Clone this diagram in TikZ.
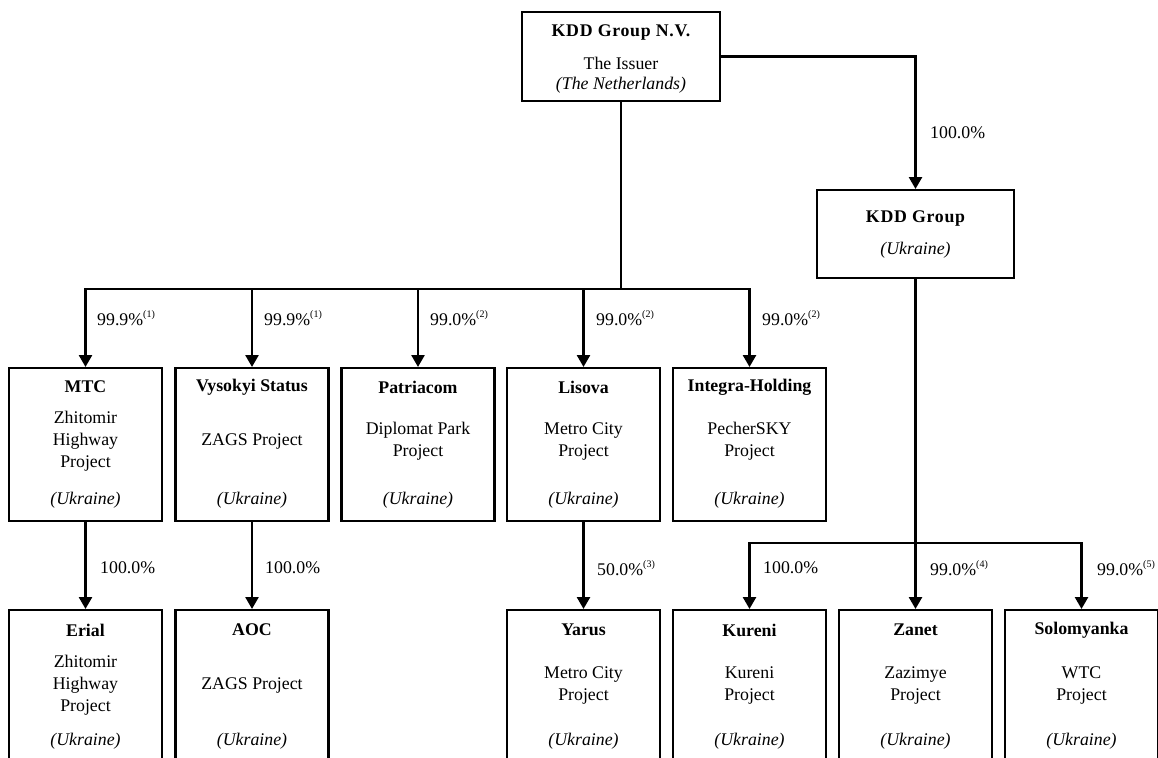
\documentclass[tikz,border=0pt]{standalone}
\usepackage{fontspec}
\setmainfont{Liberation Serif}
\usetikzlibrary{arrows.meta,calc}
\newcommand{\fnref}[1]{\raisebox{0.42em}{\fontsize{10}{10}\selectfont(#1)}}
\begin{document}
\begin{tikzpicture}[x=1pt,y=-1pt,
  box/.style={draw,line width=2.4pt,minimum width=153pt,minimum height=153pt,inner sep=0pt,anchor=north},
  conn/.style={line width=2.6pt},
  arr/.style={line width=2.6pt,-{Triangle[width=13pt,length=12pt]}},
  txt/.style={font=\fontsize{17.8}{22}\selectfont,align=center,inner sep=0pt},
  ttl/.style={font=\fontsize{17.8}{22}\selectfont\bfseries,align=center,inner sep=0pt},
  ctry/.style={font=\fontsize{17.8}{22}\selectfont\itshape,align=center,inner sep=0pt},
  pct/.style={font=\fontsize{17.8}{22}\selectfont,anchor=west,inner sep=0pt}]
\useasboundingbox (0,0) rectangle (1158,757);
\clip (0,0) rectangle (1158,757);

% top box
\node[draw,line width=2.4pt,minimum width=198pt,minimum height=89pt,inner sep=0pt,anchor=north] (top) at (621,11) {};
\node[ttl,font=\fontsize{17.8}{22}\selectfont\bfseries\addfontfeature{LetterSpace=4}] (topT) at (621,33) {KDD Group N.V.};
\node[txt] (topM) at (621,63) {The Issuer};
\node[ctry] (topC) at (621,85) {(The Netherlands)};

% KDD Group (Ukraine)
\node[draw,line width=2.4pt,minimum width=197pt,minimum height=88pt,inner sep=0pt,anchor=north] (kdd) at (915.5,189) {};
\node[ttl,font=\fontsize{17.8}{22}\selectfont\bfseries\addfontfeature{LetterSpace=4}] (kddT) at (915.5,219) {KDD Group};
\node[ctry] (kddC) at (915.5,250) {(Ukraine)};

% level 2 boxes
\foreach \nm/\cx/\tt/\mid in {mtc/85.5/MTC/{Zhitomir\\Highway\\Project},
                              vys/252/Vysokyi Status/{ZAGS Project},
                              pat/418/Patriacom/{Diplomat Park\\Project},
                              lis/583.5/Lisova/{Metro City\\Project},
                              int/749.5/Integra-Holding/{PecherSKY\\Project}}{
  \node[box] (\nm) at (\cx,367) {};
  \node[ttl] (\nm T) at (\cx,387) {\tt};
  \node[txt] (\nm M) at (\cx,441) {\mid};
  \node[ctry] (\nm C) at (\cx,500) {(Ukraine)};
}

% level 3 boxes
\foreach \nm/\cx/\tt/\mid in {eri/85.5/Erial/{Zhitomir\\Highway\\Project},
                              aoc/252/AOC/{ZAGS Project},
                              yar/583.5/Yarus/{Metro City\\Project},
                              kur/749.5/Kureni/{Kureni\\Project},
                              zan/915.5/Zanet/{Zazimye\\Project},
                              sol/1081.5/Solomyanka/{WTC\\Project}}{
  \node[box] (\nm) at (\cx,609) {};
  \node[ttl] (\nm T) at (\cx,630) {\tt};
  \node[txt] (\nm M) at (\cx,685) {\mid};
  \node[ctry] (\nm C) at (\cx,741) {(Ukraine)};
}

% connectors from the issuer
\coordinate (b1) at (621,289);
\draw[conn] (top.south) -- (b1);
\foreach \t in {mtc,vys,pat,lis,int}{
  \draw[arr] (b1) -| (\t.north);
}
\draw[arr] (top.east) -| (kdd.north);
\node[pct] (p0) at (930,133) {100.0\%};

\node[pct] (p1) at (97,318) {99.9\%\fnref{1}};
\node[pct] (p2) at (264,318) {99.9\%\fnref{1}};
\node[pct] (p3) at (430,318) {99.0\%\fnref{2}};
\node[pct] (p4) at (596,318) {99.0\%\fnref{2}};
\node[pct] (p5) at (762,318) {99.0\%\fnref{2}};

% level 2 to level 3
\draw[arr] (mtc.south) -- (eri.north);
\draw[arr] (vys.south) -- (aoc.north);
\draw[arr] (lis.south) -- (yar.north);
\node[pct] (p6) at (100,568) {100.0\%};
\node[pct] (p7) at (265,568) {100.0\%};
\node[pct] (p8) at (597,568) {50.0\%\fnref{3}};

% KDD Group to its subsidiaries
\coordinate (b2) at (915.5,543);
\draw[arr] (kdd.south) -- (zan.north);
\draw[arr] (b2) -| (kur.north);
\draw[arr] (b2) -| (sol.north);
\node[pct] (p9) at (763,568) {100.0\%};
\node[pct] (p10) at (930,568) {99.0\%\fnref{4}};
\node[pct] (p11) at (1097,568) {99.0\%\fnref{5}};
\end{tikzpicture}
\end{document}
